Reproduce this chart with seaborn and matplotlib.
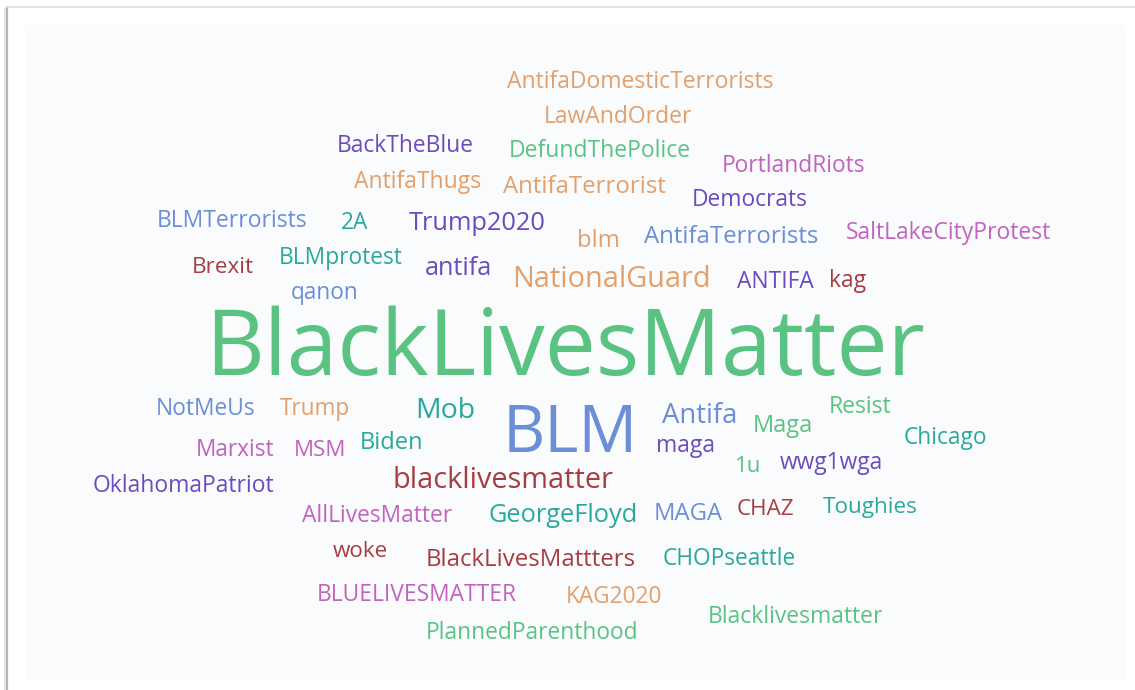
import matplotlib
matplotlib.use("Agg")
import matplotlib.pyplot as plt
import seaborn as sns

sns.set_theme(style="white")
plt.rcParams["font.family"] = ["Open Sans", "DejaVu Sans"]

# hashtag word cloud: word, centre x / baseline y (pixels of the 1135x690 card), size, colour group
words = ["AntifaDomesticTerrorists", "LawAndOrder", "DefundThePolice", "BackTheBlue",
         "PortlandRiots", "AntifaThugs", "AntifaTerrorist", "Democrats", "BLMTerrorists",
         "2A", "Trump2020", "blm", "AntifaTerrorists", "SaltLakeCityProtest", "Brexit",
         "BLMprotest", "antifa", "NationalGuard", "ANTIFA", "kag", "qanon",
         "BlackLivesMatter", "NotMeUs", "Trump", "Mob", "BLM", "Antifa", "Maga", "Resist",
         "Chicago", "Marxist", "MSM", "Biden", "maga", "1u", "wwg1wga", "OklahomaPatriot",
         "blacklivesmatter", "AllLivesMatter", "GeorgeFloyd", "MAGA", "CHAZ", "Toughies",
         "woke", "BlackLivesMattters", "CHOPseattle", "BLUELIVESMATTER", "KAG2020",
         "Blacklivesmatter", "PlannedParenthood"]
word_x = [640, 618, 600, 405, 794, 418, 584, 750, 232, 354, 477, 598, 731, 948, 223,
          341, 459, 611, 775, 848, 325, 565, 206, 315, 445, 570, 700, 783, 860, 945,
          235, 320, 392, 686, 748, 831, 183, 503, 377, 563, 688, 765, 870, 360, 531,
          729, 417, 614, 796, 532]
word_y = [88, 123, 157, 152, 172, 188, 193, 206, 227, 229, 230, 247, 243, 239, 273,
          264, 275, 287, 288, 287, 299, 375, 415, 415, 418, 452, 423, 432, 413, 444,
          456, 456, 449, 452, 472, 469, 492, 488, 522, 522, 520, 515, 513, 557, 566,
          565, 601, 603, 623, 639]
word_size = [16.5, 16.5, 16.5, 16.4, 16.4, 16.5, 17.3, 16.4, 16.5, 16.3, 18.3, 17.3,
             17.3, 16.5, 16.2, 16.4, 18.2, 20.8, 16.4, 16.5, 16.3, 65.6, 16.4, 16.3,
             20.5, 47.2, 19.8, 17.0, 16.6, 16.4, 16.3, 16.1, 17.0, 16.5, 16.0, 16.4,
             16.5, 20.8, 16.4, 18.3, 17.2, 16.1, 16.2, 16.2, 17.3, 16.4, 16.4, 16.3,
             16.5, 16.4]
word_group = "OOGPMOOPBTPOBMRTPOPRBGBOTBBGGTMMTPGPPRMTBRTRRTMOGG"

palette = dict(zip("GBOPTMR", sns.color_palette(
    ["#5ac382", "#6b8ed6", "#e3a06a", "#6b4bbd", "#2aa99b", "#c263bd", "#a63d40"])))

fig = plt.figure(figsize=(11.35, 6.9), dpi=100)
ax = fig.add_axes([0, 0, 1, 1])
ax.set_xlim(0, 1135)
ax.set_ylim(690, 0)
ax.axis("off")

# card border / shadow and the light panel
ax.plot([6.5, 6.5], [6, 690], color="#b4b4b4", lw=1.6, solid_capstyle="butt")
ax.plot([4.5, 4.5], [8, 690], color="#dedede", lw=1.2, solid_capstyle="butt")
ax.plot([6, 1135], [6.5, 6.5], color="#dcdcdc", lw=1.2, solid_capstyle="butt")
ax.add_patch(plt.Rectangle((25, 25), 1100, 655, facecolor="#fafbfd", edgecolor="none"))

for w, x, y, s, g in zip(words, word_x, word_y, word_size, word_group):
    ax.text(x, y, w, ha="center", va="baseline", fontsize=s, color=palette[g])

fig.savefig("out.png", dpi=100)
